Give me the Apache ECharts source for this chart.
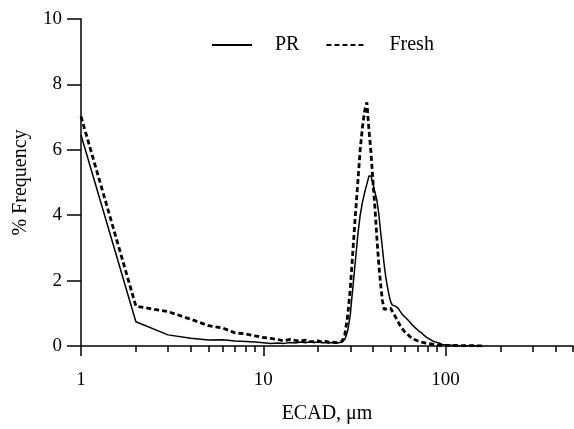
<!DOCTYPE html>
<html><head><meta charset="utf-8">
<script src="https://cdn.jsdelivr.net/npm/echarts@6/dist/echarts.min.js"></script>
<style>html,body{margin:0;padding:0;background:#fff}#c{width:574px;height:429px}</style>
</head><body><div id="c"></div>
<script>
const seriesNames = ["PR", "Fresh"];
const prData = [[1,6.45],[2,0.74],[3,0.34],[4,0.24],[5,0.18],[6,0.19],[7,0.15],[8,0.14],[9,0.12],[10,0.1],[11,0.08],[12,0.09],[13,0.08],[14,0.11],[15,0.09],[16,0.12],[17,0.1],[18,0.13],[19,0.11],[20,0.12],[21,0.1],[22,0.11],[23,0.1],[24,0.11],[25,0.1],[26,0.1],[27,0.12],[28,0.2],[29,0.45],[30,0.95],[31,1.8],[32,2.6],[33,3.4],[34,4.0],[35,4.4],[36,4.7],[37,4.95],[38,5.2],[39,5.2],[40,4.95],[41,4.7],[42,4.45],[43,4.05],[44,3.5],[45,3.0],[46,2.5],[47,2.1],[48,1.8],[49,1.55],[50,1.35],[51,1.25],[52,1.2],[53,1.22],[54,1.25],[55,1.15],[56,1.08],[57,1.02],[58,0.96],[59,0.92],[60,0.88],[62,0.8],[64,0.72],[66,0.63],[68,0.56],[70,0.5],[72,0.44],[74,0.4],[76,0.33],[78,0.28],[80,0.24],[84,0.17],[88,0.12],[92,0.09],[96,0.05],[100,0.03],[110,0.02],[120,0.01],[140,0.01],[160,0]];
const freshData = [[1,7.02],[2,1.22],[3,1.05],[4,0.82],[5,0.62],[6,0.55],[7,0.4],[8,0.37],[9,0.31],[10,0.26],[11,0.23],[12,0.2],[13,0.16],[14,0.2],[15,0.17],[16,0.15],[17,0.18],[18,0.14],[19,0.13],[20,0.16],[21,0.12],[22,0.14],[23,0.11],[24,0.12],[25,0.1],[26,0.11],[27,0.14],[28,0.35],[29,0.9],[30,1.75],[31,2.9],[32,4.0],[33,5.0],[34,6.0],[35,6.7],[36,7.2],[37,7.45],[38,6.6],[39,5.9],[40,5.0],[41,4.2],[42,3.3],[43,2.5],[44,1.9],[45,1.4],[46,1.12],[47,1.1],[48,1.15],[49,1.18],[50,1.15],[52,0.98],[54,0.82],[56,0.65],[58,0.52],[60,0.42],[62,0.35],[64,0.28],[66,0.23],[68,0.19],[70,0.16],[74,0.12],[78,0.09],[82,0.07],[86,0.05],[90,0.03],[100,0.02],[120,0.01],[140,0.01],[165,0]];
const xMajorTicks = [1, 10, 100];
const xMinorTicks = [2,3,4,5,6,7,8,9,20,30,40,50,60,70,80,90,200,300,400,500];

const FONT = "Liberation Serif";
const chart = echarts.init(document.getElementById('c'), null, {renderer: 'canvas'});
chart.setOption({
  animation: false,
  backgroundColor: '#fff',
  textStyle: {fontFamily: FONT, color: '#000'},
  grid: {left: 81, right: 1, top: 19, bottom: 82, containLabel: false},
  legend: {
    data: seriesNames,
    left: 206, top: 30,
    itemWidth: 40, itemHeight: 12, itemGap: 26,
    itemStyle: {opacity: 0},
    textStyle: {fontFamily: FONT, fontSize: 20, color: '#000', padding: [0, 0, 0, 18]}
  },
  xAxis: [{
    type: 'log', logBase: 10, min: 1, max: 500,
    name: 'ECAD, μm', nameLocation: 'middle', nameGap: 58,
    nameTextStyle: {fontFamily: FONT, fontSize: 20, color: '#000'},
    axisLine: {onZero: false, lineStyle: {color: '#000', width: 1.5}},
    axisTick: {show: true, inside: false, length: 10, customValues: xMajorTicks, lineStyle: {color: '#000', width: 1.5}},
    axisLabel: {customValues: xMajorTicks, fontFamily: FONT, fontSize: 19, color: '#000', margin: 25},
    splitLine: {show: false}
  }, {
    type: 'log', logBase: 10, min: 1, max: 500, gridIndex: 0, position: 'bottom',
    axisLine: {show: false, onZero: false},
    axisTick: {show: true, inside: false, length: 6, customValues: xMinorTicks, lineStyle: {color: '#000', width: 1.5}},
    axisLabel: {show: false},
    splitLine: {show: false}
  }],
  yAxis: {
    type: 'value', min: 0, max: 10, interval: 2,
    name: '% Frequency', nameLocation: 'middle', nameGap: 50, nameRotate: 90,
    nameTextStyle: {fontFamily: FONT, fontSize: 20, color: '#000'},
    axisLine: {show: true, lineStyle: {color: '#000', width: 1.5}},
    axisTick: {show: true, inside: false, length: 14, lineStyle: {color: '#000', width: 1.5}},
    axisLabel: {fontFamily: FONT, fontSize: 19, color: '#000', margin: 19},
    splitLine: {show: false}
  },
  series: [{
    name: seriesNames[0], type: 'line', data: prData, xAxisIndex: 0,
    symbol: 'none', smooth: false,
    lineStyle: {color: '#000', width: 1.5, type: 'solid'},
    itemStyle: {color: '#000'}
  }, {
    name: seriesNames[1], type: 'line', data: freshData, xAxisIndex: 0,
    symbol: 'none', smooth: false,
    lineStyle: {color: '#000', width: 2.8, type: [5, 3]},
    itemStyle: {color: '#000'}
  }]
});
</script></body></html>
